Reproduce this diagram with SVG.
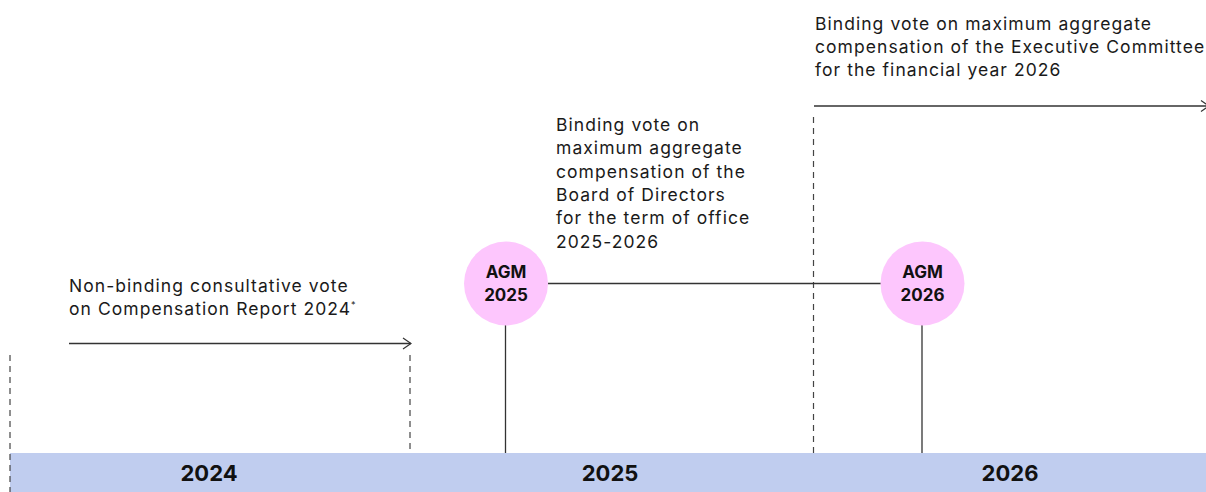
<svg xmlns="http://www.w3.org/2000/svg" width="1206" height="492" viewBox="0 0 1206 492">
  <defs>
    <style>
      .lbl { font-family: Inter, "Liberation Sans", sans-serif; font-size: 17.5px; letter-spacing: 1.05px; fill: #1a1a1a; }
      .yr { font-family: Inter, "Liberation Sans", sans-serif; font-size: 22px; font-weight: 700; fill: #111; text-anchor: middle; }
      .agm { font-family: Inter, "Liberation Sans", sans-serif; font-size: 17px; font-weight: 700; fill: #111; text-anchor: middle; }
      .solid { stroke: #333; stroke-width: 1.3; fill: none; }
      .dash { stroke: #444; stroke-width: 1.2; stroke-dasharray: 6 5; fill: none; }
      .arrow { stroke: #333; stroke-width: 1.3; fill: none; marker-end: url(#chev); }
      .bubble { fill: #fdc6fd; }
    </style>
    <marker id="chev" viewBox="0 0 10 14" refX="9" refY="7" markerWidth="10" markerHeight="14" markerUnits="userSpaceOnUse" orient="auto">
      <path d="M1 1.5 L9 7 L1 12.5" fill="none" stroke="#333" stroke-width="1.2"/>
    </marker>
  </defs>

  <!-- year band -->
  <g id="band">
    <rect x="10" y="453" width="1196" height="39" fill="#c0cdef"/>
    <text class="yr" x="209" y="481">2024</text>
    <text class="yr" x="610" y="481">2025</text>
    <text class="yr" x="1010" y="481">2026</text>
  </g>

  <!-- connectors -->
  <g id="connectors">
    <line class="dash" x1="10" y1="355" x2="10" y2="492"/>
    <line class="dash" x1="410" y1="355" x2="410" y2="453"/>
    <line class="dash" x1="813.5" y1="117" x2="813.5" y2="453"/>
    <line class="arrow" x1="69" y1="343.5" x2="411" y2="343.5"/>
    <line class="arrow" x1="814" y1="106" x2="1209" y2="106"/>
    <line class="solid" x1="548" y1="283.5" x2="881" y2="283.5"/>
    <line class="solid" x1="505.5" y1="325" x2="505.5" y2="453"/>
    <line class="solid" x1="922" y1="325" x2="922" y2="453"/>
  </g>

  <!-- notes -->
  <g id="note-2024">
    <text class="lbl" x="69" y="292">Non-binding consultative vote</text>
    <text class="lbl" x="69" y="315">on Compensation Report 2024<tspan font-size="9" dy="-7">*</tspan></text>
  </g>
  <g id="note-board">
    <text class="lbl" x="556" y="131">Binding vote on</text>
    <text class="lbl" x="556" y="154">maximum aggregate</text>
    <text class="lbl" x="556" y="177.5">compensation of the</text>
    <text class="lbl" x="556" y="201">Board of Directors</text>
    <text class="lbl" x="556" y="224">for the term of office</text>
    <text class="lbl" x="556" y="247.5">2025-2026</text>
  </g>
  <g id="note-exec">
    <text class="lbl" x="815" y="30">Binding vote on maximum aggregate</text>
    <text class="lbl" x="815" y="53">compensation of the Executive Committee</text>
    <text class="lbl" x="815" y="76">for the financial year 2026</text>
  </g>

  <!-- AGM nodes -->
  <g id="agm-2025">
    <circle class="bubble" cx="506" cy="283.5" r="42"/>
    <text class="agm" x="506" y="278">AGM</text>
    <text class="agm" x="506" y="301">2025</text>
  </g>
  <g id="agm-2026">
    <circle class="bubble" cx="922.5" cy="283.5" r="42"/>
    <text class="agm" x="922.5" y="278">AGM</text>
    <text class="agm" x="922.5" y="301">2026</text>
  </g>
</svg>
